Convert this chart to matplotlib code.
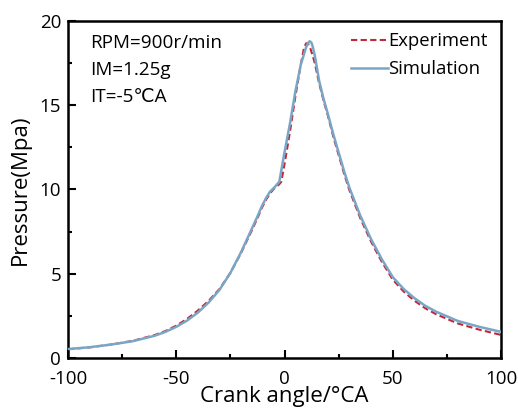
import matplotlib
matplotlib.use("Agg")
import matplotlib.pyplot as plt
from matplotlib.ticker import MultipleLocator

plt.rcParams['font.family'] = ['Open Sans', 'DejaVu Sans']
plt.rcParams['axes.unicode_minus'] = False

# Data
sim_x = [-100, -90, -80, -70, -60, -55, -50, -45, -40, -35, -30, -25, -20, -15, -12.5, -10.5, -8.5, -6.7, -4.5, -2.4,
         0, 2.5, 5, 7.5, 10, 11, 11.7, 12.5, 13, 14, 16, 18, 20, 22.5, 25, 27.5, 30, 35, 40, 45, 50, 55, 60, 65, 70,
         80, 90, 100]
sim_y = [0.53, 0.64, 0.80, 1.00, 1.32, 1.55, 1.85, 2.22, 2.70, 3.30, 4.05, 5.05, 6.30, 7.70, 8.40, 9.00, 9.50, 9.87, 10.15, 10.46,
         12.20, 13.90, 15.80, 17.40, 18.45, 18.72, 18.80, 18.70, 18.50, 17.95, 16.45, 15.40, 14.50, 13.30, 12.20, 11.10, 10.10, 8.45, 7.05, 5.85, 4.80, 4.10, 3.55, 3.10, 2.75,
         2.20, 1.85, 1.55]

exp_x = [-100, -90, -80, -70, -60, -55, -50, -45, -40, -35, -30, -25, -20, -15, -12.5, -10.5, -8.5, -6.5, -4.5, -2.5, -1.5,
         0, 2.5, 5, 7.5, 9, 10, 11, 12, 13, 14, 16, 18, 20, 22.5, 25, 27.5, 30, 35, 40, 45, 50, 55, 60, 65, 70,
         80, 90, 100]
exp_y = [0.52, 0.63, 0.80, 1.02, 1.36, 1.60, 1.92, 2.32, 2.82, 3.40, 4.10, 5.05, 6.25, 7.60, 8.30, 8.90, 9.40, 9.80, 10.10, 10.30, 10.45,
         11.50, 13.40, 15.50, 17.40, 18.40, 18.68, 18.62, 18.35, 17.95, 17.50, 16.30, 15.30, 14.40, 13.15, 12.05, 10.95, 9.95, 8.30, 6.90, 5.70, 4.65, 3.95, 3.40, 2.95, 2.60,
         2.05, 1.68, 1.37]

fig = plt.figure(figsize=(5.18, 4.11), dpi=100)
ax = fig.add_axes([68/518, 1-358/411, (501-68)/518, (358-21)/411])

ax.plot(exp_x, exp_y, linestyle=(0, (3, 1.6)), color='#c0283c', lw=1.5, label='Experiment', zorder=2)
ax.plot(sim_x, sim_y, color='#7aa6c6', lw=1.8, label='Simulation', zorder=3)

ax.set_xlim(-100, 100)
ax.set_ylim(0, 20)
ax.xaxis.set_major_locator(MultipleLocator(50))
ax.xaxis.set_minor_locator(MultipleLocator(25))
ax.yaxis.set_major_locator(MultipleLocator(5))
ax.yaxis.set_minor_locator(MultipleLocator(2.5))
ax.tick_params(which='both', direction='in', top=False, right=False, labelsize=13.5, width=1.5)
ax.tick_params(which='major', length=6)
ax.tick_params(which='minor', length=3)
ax.tick_params(axis='x', which='major', pad=8.5)
ax.tick_params(axis='y', which='major', pad=5)
for s in ax.spines.values():
    s.set_linewidth(1.8)

ax.set_xlabel('Crank angle/°CA', fontsize=16, labelpad=-1)
ax.set_ylabel('Pressure(Mpa)', fontsize=16, labelpad=6)

ax.text(0.05, 0.935, 'RPM=900r/min', transform=ax.transAxes, fontsize=13.6, va='center')
ax.text(0.05, 0.855, 'IM=1.25g', transform=ax.transAxes, fontsize=13.6, va='center')
ax.text(0.05, 0.775, 'IT=-5℃A', transform=ax.transAxes, fontsize=13.6, va='center')

leg = ax.legend(loc='upper right', frameon=False, fontsize=13.3, handlelength=2.0, handletextpad=0.0,
                borderaxespad=0.2, labelspacing=0.55, bbox_to_anchor=(0.995, 1.0))

fig.savefig('out.png', dpi=100)
